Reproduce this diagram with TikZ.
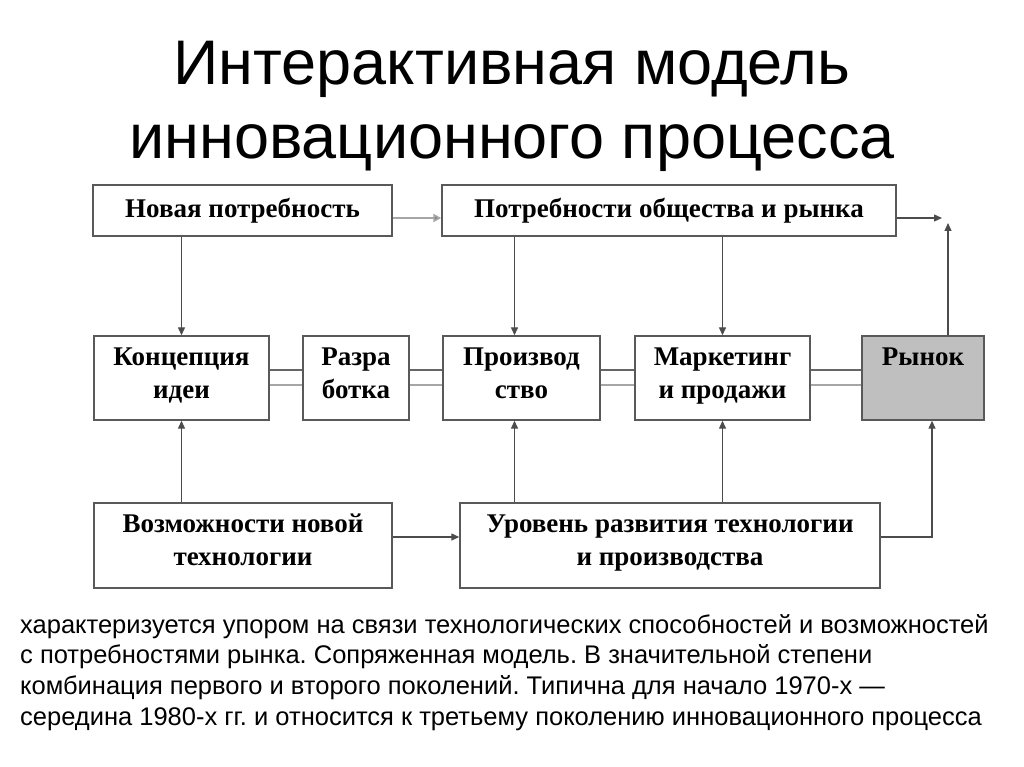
\documentclass[tikz,border=0pt]{standalone}
\usepackage{fontspec}
\setmainfont{Liberation Serif}
\newfontfamily\headfont{Liberation Sans}
\usetikzlibrary{arrows.meta}
\frenchspacing
\newcommand{\rowstrut}{\rule[-12pt]{0pt}{31pt}}

\tikzset{
  blockbox/.style={draw=black!65, line width=1.4pt, fill=white, inner sep=0pt, align=center,
    font=\fontsize{27}{33}\selectfont\bfseries},
  flow/.style={draw=black!70, line width=1.3pt, -{Triangle[length=8pt,width=7pt]}},
  link/.style={draw=black!60, line width=1.5pt},
}

\begin{document}
\begin{tikzpicture}[x=1pt, y=-1pt]
    \useasboundingbox (0,0) rectangle (1024,767);
    \pgfmathsetmacro{\topRow}{210.5}
    \pgfmathsetmacro{\midRow}{378}
    \pgfmathsetmacro{\lowRow}{545.5}

    % title
    \node[font=\headfont\fontsize{63}{74}\selectfont, align=center] (title) at (512,106) {Интерактивная модель\\инновационного процесса};

    % top row
    \node[blockbox, minimum width=299pt, minimum height=51pt] (need) at (242.5,\topRow) {Новая потребность};
    \node[blockbox, minimum width=454pt, minimum height=51pt] (society) at (669,\topRow) {Потребности общества и рынка};

    % middle row
    \node[blockbox, minimum width=175pt, minimum height=84pt] (idea) at (181.5,\midRow) {\rowstrut Концепция\\\rowstrut идеи};
    \node[blockbox, minimum width=106pt, minimum height=84pt] (develop) at (356,\midRow) {\rowstrut Разра\\\rowstrut ботка};
    \node[blockbox, minimum width=157pt, minimum height=84pt] (produce) at (521.5,\midRow) {\rowstrut Производ\\\rowstrut ство};
    \node[blockbox, minimum width=175pt, minimum height=84pt] (market) at (722.5,\midRow) {\rowstrut Маркетинг\\\rowstrut и продажи};
    \node[blockbox, minimum width=122pt, minimum height=84pt, fill=black!25] (sales) at (923,\midRow) {\rowstrut Рынок\\\rowstrut};

    % bottom row
    \node[blockbox, minimum width=298pt, minimum height=85pt] (techopp) at (243,\lowRow) {\rowstrut Возможности новой\\\rowstrut технологии};
    \node[blockbox, minimum width=420pt, minimum height=85pt] (techlevel) at (670,\lowRow) {\rowstrut Уровень развития технологии\\\rowstrut и производства};

    % double links along the middle row
    \foreach \a/\b in {idea/develop, develop/produce, produce/market, market/sales} {
        \draw[link] ([yshift=8pt]\a.east) -- ([yshift=8pt]\b.west);
        \draw[link, line width=2.5pt, draw=black!35] ([yshift=-7pt]\a.east) -- ([yshift=-7pt]\b.west);
    }

    % arrows down from the needs and up from the technology
    \draw[flow] (idea.north |- need.south) -- (idea.north);
    \draw[flow] (idea.south |- techopp.north) -- (idea.south);
    \foreach \blk/\dx in {produce/-7, market/0} {
        \draw[flow] ([xshift=\dx pt]\blk.north |- society.south) -- ([xshift=\dx pt]\blk.north);
        \draw[flow] ([xshift=\dx pt]\blk.south |- techlevel.north) -- ([xshift=\dx pt]\blk.south);
    }

    % horizontal arrows
    \draw[flow, line width=2.5pt, draw=black!35, -{Triangle[length=8pt,width=8pt,fill=black!80]}] ([yshift=-7.5pt]need.east) -- ([yshift=-7.5pt]society.west);
    \draw[flow] ([yshift=8.5pt]techopp.east) -- ([yshift=8.5pt]techlevel.west);

    % market feedback
    \coordinate (corner) at (948,218);
    \draw[flow] ([yshift=-7.5pt]society.east) -- ([xshift=-6pt]corner);
    \draw[flow] ([xshift=25pt]sales.north) -- ([yshift=-5pt]corner);
    \coordinate (bend) at (932,537);
    \draw[flow] ([yshift=8.5pt]techlevel.east) -- (bend) -- ([xshift=9pt]sales.south);

    % caption
    \node[anchor=north west, inner sep=0pt, align=left, font=\headfont\fontsize{25.5}{30.7}\selectfont] (caption) at (20,614) {характеризуется упором на связи технологических способностей и возможностей\\с потребностями рынка. Сопряженная модель. В значительной степени\\комбинация первого и второго поколений. Типична для начало 1970-х —\\середина 1980-х гг. и относится к третьему поколению инновационного процесса};
\end{tikzpicture}
\end{document}
